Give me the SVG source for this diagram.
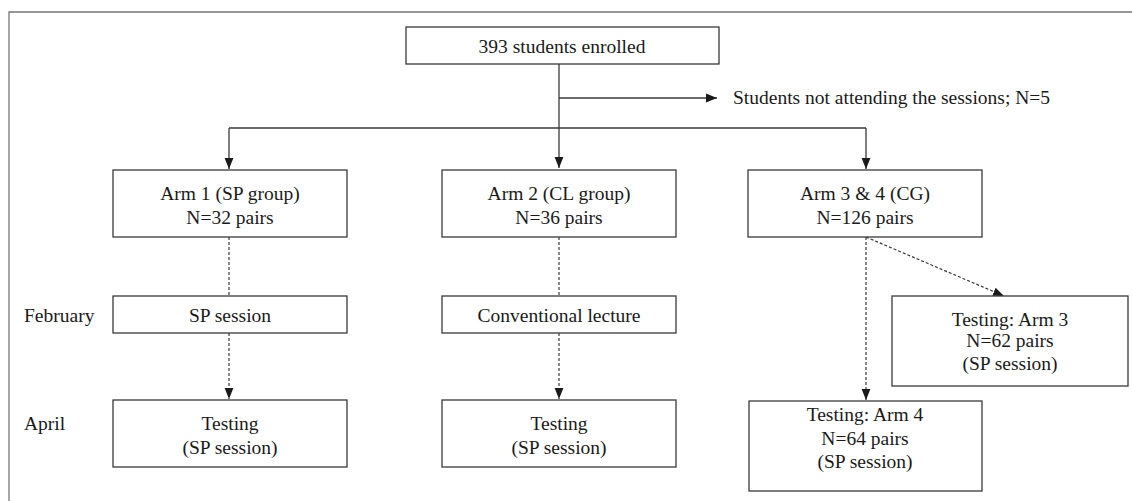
<svg xmlns="http://www.w3.org/2000/svg" width="1132" height="501" viewBox="0 0 1132 501">
<defs>
<marker id="ah" viewBox="0 0 10 10" refX="10" refY="5" markerWidth="11" markerHeight="11" markerUnits="userSpaceOnUse" orient="auto">
<path d="M0,1 L10,5 L0,9 Z" fill="#1a1a1a"/>
</marker>
</defs>
<style>
.box{fill:#fff;stroke:#3a3a3a;stroke-width:1.3}
.frame{fill:none;stroke:#777;stroke-width:1.3}
.t{font-family:"Liberation Serif","Times New Roman",serif;font-size:19.5px;fill:#1a1a1a}
.c{text-anchor:middle}
.solid{fill:none;stroke:#3a3a3a;stroke-width:1.3}
.dash{fill:none;stroke:#3a3a3a;stroke-width:1.2;stroke-dasharray:3,2}
</style>
<rect width="1132" height="501" fill="#fff"/>
<path class="frame" d="M9,501 V12 H1132"/>
<g id="connectors">
<path class="solid" d="M559,64 V168" marker-end="url(#ah)"/>
<path class="solid" d="M559,98 H717" marker-end="url(#ah)"/>
<path class="solid" d="M229,128 H866"/>
<path class="solid" d="M229,128 V169" marker-end="url(#ah)"/>
<path class="solid" d="M866,128 V169" marker-end="url(#ah)"/>
<path class="dash" d="M229,237 V296"/>
<path class="dash" d="M229,333 V399" marker-end="url(#ah)"/>
<path class="dash" d="M559,237 V296"/>
<path class="dash" d="M559,333 V399" marker-end="url(#ah)"/>
<path class="dash" d="M866,237 V400" marker-end="url(#ah)"/>
<path class="dash" d="M866,237 L1004,296" marker-end="url(#ah)"/>
</g>
<g id="enrolled">
<rect class="box" x="406" y="27" width="313" height="37"/>
<text class="t c" x="562" y="53">393 students enrolled</text>
</g>
<g id="excluded">
<text class="t" x="733" y="104">Students not attending the sessions; N=5</text>
</g>
<g id="arm1">
<rect class="box" x="113" y="170" width="234" height="67"/>
<text class="t c" x="230" y="200">Arm 1 (SP group)</text>
<text class="t c" x="230" y="224">N=32 pairs</text>
</g>
<g id="arm2">
<rect class="box" x="442" y="170" width="234" height="67"/>
<text class="t c" x="559" y="200">Arm 2 (CL group)</text>
<text class="t c" x="559" y="224">N=36 pairs</text>
</g>
<g id="arm34">
<rect class="box" x="748" y="170" width="234" height="67"/>
<text class="t c" x="865" y="200">Arm 3 &amp; 4 (CG)</text>
<text class="t c" x="865" y="224">N=126 pairs</text>
</g>
<g id="february-label"><text class="t" x="24" y="322">February</text></g>
<g id="april-label"><text class="t" x="24" y="430">April</text></g>
<g id="sp-session">
<rect class="box" x="113" y="296" width="234" height="37"/>
<text class="t c" x="230" y="322">SP session</text>
</g>
<g id="conv-lecture">
<rect class="box" x="442" y="296" width="234" height="37"/>
<text class="t c" x="559" y="322">Conventional lecture</text>
</g>
<g id="testing1">
<rect class="box" x="113" y="400" width="234" height="67"/>
<text class="t c" x="230" y="430">Testing</text>
<text class="t c" x="230" y="454">(SP session)</text>
</g>
<g id="testing2">
<rect class="box" x="442" y="400" width="234" height="67"/>
<text class="t c" x="559" y="430">Testing</text>
<text class="t c" x="559" y="454">(SP session)</text>
</g>
<g id="testing-arm3">
<rect class="box" x="892" y="296" width="236" height="90"/>
<text class="t c" x="1010" y="326">Testing: Arm 3</text>
<text class="t c" x="1010" y="347">N=62 pairs</text>
<text class="t c" x="1010" y="370">(SP session)</text>
</g>
<g id="testing-arm4">
<rect class="box" x="749" y="401" width="233" height="90"/>
<text class="t c" x="865" y="421">Testing: Arm 4</text>
<text class="t c" x="865" y="445">N=64 pairs</text>
<text class="t c" x="865" y="468">(SP session)</text>
</g>
</svg>
